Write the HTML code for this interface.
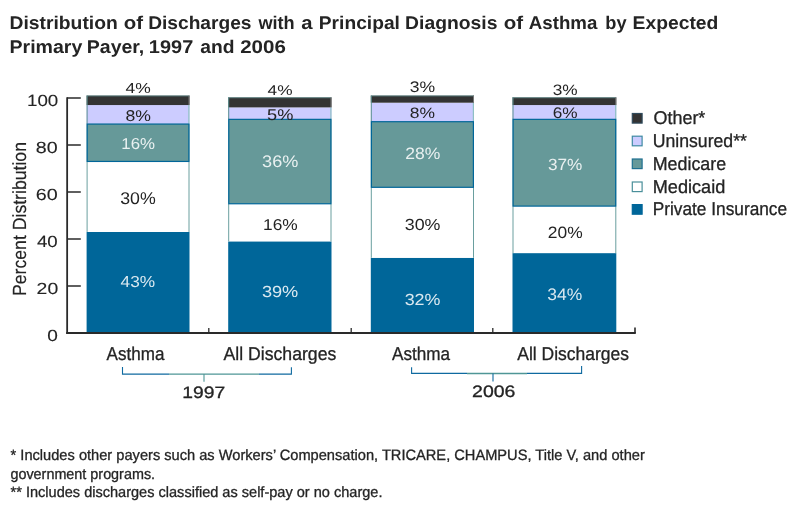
<!DOCTYPE html>
<html lang="en"><head><meta charset="utf-8">
<title>Distribution of Discharges with a Principal Diagnosis of Asthma by Expected Primary Payer, 1997 and 2006</title>
<style>
html,body{margin:0;padding:0;background:#fff;}
body{width:800px;height:514px;overflow:hidden;}
svg{display:block;}
text{font-family:"Liberation Sans", sans-serif;text-rendering:geometricPrecision;}
</style></head><body>
<svg width="800" height="514" viewBox="0 0 800 514">
<rect x="0" y="0" width="800" height="514" fill="#ffffff"/>
<text y="28.75" font-size="18.40" font-weight="bold" fill="#242424"><tspan x="9.54" textLength="108.20" lengthAdjust="spacingAndGlyphs">Distribution</tspan> <tspan x="123.68" textLength="19.28" lengthAdjust="spacingAndGlyphs">of</tspan> <tspan x="148.16" textLength="103.30" lengthAdjust="spacingAndGlyphs">Discharges</tspan> <tspan x="258.38" textLength="36.29" lengthAdjust="spacingAndGlyphs">with</tspan> <tspan x="301.20" textLength="11.28" lengthAdjust="spacingAndGlyphs">a</tspan> <tspan x="318.79" textLength="81.13" lengthAdjust="spacingAndGlyphs">Principal</tspan> <tspan x="405.14" textLength="92.28" lengthAdjust="spacingAndGlyphs">Diagnosis</tspan> <tspan x="503.68" textLength="19.36" lengthAdjust="spacingAndGlyphs">of</tspan> <tspan x="528.85" textLength="68.50" lengthAdjust="spacingAndGlyphs">Asthma</tspan> <tspan x="605.37" textLength="21.29" lengthAdjust="spacingAndGlyphs">by</tspan> <tspan x="632.55" textLength="85.81" lengthAdjust="spacingAndGlyphs">Expected</tspan></text>
<text y="53.25" font-size="18.40" font-weight="bold" fill="#242424"><tspan x="9.52" textLength="72.81" lengthAdjust="spacingAndGlyphs">Primary</tspan> <tspan x="86.75" textLength="57.55" lengthAdjust="spacingAndGlyphs">Payer,</tspan> <tspan x="148.85" textLength="44.40" lengthAdjust="spacingAndGlyphs">1997</tspan> <tspan x="200.20" textLength="34.22" lengthAdjust="spacingAndGlyphs">and</tspan> <tspan x="240.20" textLength="45.62" lengthAdjust="spacingAndGlyphs">2006</tspan></text>
<rect x="86.60" y="231.95" width="102.90" height="101.05" fill="#006699"/>
<rect x="86.60" y="161.45" width="102.90" height="70.50" fill="#ffffff"/>
<rect x="86.60" y="123.85" width="102.90" height="37.60" fill="#669999"/>
<rect x="86.60" y="105.05" width="102.90" height="18.80" fill="#ccccff"/>
<rect x="86.60" y="95.60" width="102.90" height="9.45" fill="#333333"/>
<path d="M87.10 161.45V231.95M189.00 161.45V231.95" stroke="#6a9f9f" stroke-width="1" fill="none"/>
<path d="M87.10 123.85V95.60" stroke="#5c9090" stroke-width="1" fill="none"/>
<path d="M86.60 95.95H189.50" stroke="#5c9090" stroke-width="0.7" fill="none"/>
<path d="M188.90 123.85V105.05" stroke="#8fc0c4" stroke-width="1.2" fill="none"/>
<path d="M189.00 105.05V95.60" stroke="#777" stroke-width="1" fill="none"/>
<rect x="87.20" y="124.05" width="101.70" height="37.40" fill="none" stroke="#006699" stroke-width="1.2"/>
<rect x="228.20" y="241.35" width="103.30" height="91.65" fill="#006699"/>
<rect x="228.20" y="203.75" width="103.30" height="37.60" fill="#ffffff"/>
<rect x="228.20" y="119.15" width="103.30" height="84.60" fill="#669999"/>
<rect x="228.20" y="107.40" width="103.30" height="11.75" fill="#ccccff"/>
<rect x="228.20" y="97.41" width="103.30" height="9.99" fill="#333333"/>
<path d="M228.70 203.75V241.35M331.00 203.75V241.35" stroke="#6a9f9f" stroke-width="1" fill="none"/>
<path d="M228.70 119.15V97.41" stroke="#5c9090" stroke-width="1" fill="none"/>
<path d="M228.20 97.76H331.50" stroke="#5c9090" stroke-width="0.7" fill="none"/>
<path d="M330.90 119.15V107.40" stroke="#8fc0c4" stroke-width="1.2" fill="none"/>
<path d="M331.00 107.40V97.41" stroke="#777" stroke-width="1" fill="none"/>
<rect x="228.80" y="119.35" width="102.10" height="84.40" fill="none" stroke="#006699" stroke-width="1.2"/>
<rect x="370.80" y="257.80" width="103.20" height="75.20" fill="#006699"/>
<rect x="370.80" y="187.30" width="103.20" height="70.50" fill="#ffffff"/>
<rect x="370.80" y="121.50" width="103.20" height="65.80" fill="#669999"/>
<rect x="370.80" y="102.70" width="103.20" height="18.80" fill="#ccccff"/>
<rect x="370.80" y="95.60" width="103.20" height="7.10" fill="#333333"/>
<path d="M371.30 187.30V257.80M473.50 187.30V257.80" stroke="#6a9f9f" stroke-width="1" fill="none"/>
<path d="M371.30 121.50V95.60" stroke="#5c9090" stroke-width="1" fill="none"/>
<path d="M370.80 95.95H474.00" stroke="#5c9090" stroke-width="0.7" fill="none"/>
<path d="M473.40 121.50V102.70" stroke="#8fc0c4" stroke-width="1.2" fill="none"/>
<path d="M473.50 102.70V95.60" stroke="#777" stroke-width="1" fill="none"/>
<rect x="371.40" y="121.70" width="102.00" height="65.60" fill="none" stroke="#006699" stroke-width="1.2"/>
<rect x="512.50" y="253.10" width="103.80" height="79.90" fill="#006699"/>
<rect x="512.50" y="206.10" width="103.80" height="47.00" fill="#ffffff"/>
<rect x="512.50" y="119.15" width="103.80" height="86.95" fill="#669999"/>
<rect x="512.50" y="105.05" width="103.80" height="14.10" fill="#ccccff"/>
<rect x="512.50" y="97.41" width="103.80" height="7.64" fill="#333333"/>
<path d="M513.00 206.10V253.10M615.80 206.10V253.10" stroke="#6a9f9f" stroke-width="1" fill="none"/>
<path d="M513.00 119.15V97.41" stroke="#5c9090" stroke-width="1" fill="none"/>
<path d="M512.50 97.76H616.30" stroke="#5c9090" stroke-width="0.7" fill="none"/>
<path d="M615.70 119.15V105.05" stroke="#8fc0c4" stroke-width="1.2" fill="none"/>
<path d="M615.80 105.05V97.41" stroke="#777" stroke-width="1" fill="none"/>
<rect x="513.10" y="119.35" width="102.60" height="86.75" fill="none" stroke="#006699" stroke-width="1.2"/>
<g stroke="#2a2a2a" fill="none">
<path d="M67.15 97.3V334" stroke-width="1.8"/>
<path d="M66.25 333.1H635.8" stroke-width="2.0"/>
<path d="M67 286.00H80.8" stroke-width="1.5"/>
<path d="M67 239.00H80.8" stroke-width="1.5"/>
<path d="M67 192.00H80.8" stroke-width="1.5"/>
<path d="M67 145.00H80.8" stroke-width="1.5"/>
<path d="M67 98.00H80.8" stroke-width="1.5"/>
<path d="M208.80 328V333" stroke-width="1.3"/>
<path d="M351.20 328V333" stroke-width="1.3"/>
<path d="M492.80 328V333" stroke-width="1.3"/>
<path d="M635 327.5V333" stroke-width="1.6"/>
</g>
<text x="27.00" y="106.00" font-size="16.20" font-weight="normal" fill="#242424" textLength="31.28" lengthAdjust="spacingAndGlyphs" stroke="#242424" stroke-width="0.10">100</text>
<text x="35.83" y="153.00" font-size="16.20" font-weight="normal" fill="#242424" textLength="21.86" lengthAdjust="spacingAndGlyphs" stroke="#242424" stroke-width="0.10">80</text>
<text x="35.70" y="200.00" font-size="16.20" font-weight="normal" fill="#242424" textLength="21.97" lengthAdjust="spacingAndGlyphs" stroke="#242424" stroke-width="0.10">60</text>
<text x="36.98" y="247.00" font-size="16.20" font-weight="normal" fill="#242424" textLength="20.75" lengthAdjust="spacingAndGlyphs" stroke="#242424" stroke-width="0.10">40</text>
<text x="36.60" y="294.00" font-size="16.20" font-weight="normal" fill="#242424" textLength="21.58" lengthAdjust="spacingAndGlyphs" stroke="#242424" stroke-width="0.10">20</text>
<text x="47.16" y="341.00" font-size="16.20" font-weight="normal" fill="#242424" textLength="10.61" lengthAdjust="spacingAndGlyphs" stroke="#242424" stroke-width="0.10">0</text>
<g transform="translate(25.9 296) rotate(-90)">
<text x="0" y="0" font-size="19" fill="#242424" stroke="#242424" stroke-width="0.15" textLength="154" lengthAdjust="spacingAndGlyphs">Percent Distribution</text>
</g>
<text x="125.44" y="92.70" font-size="14.40" font-weight="normal" fill="#242424" textLength="25.22" lengthAdjust="spacingAndGlyphs">4%</text>
<text x="125.50" y="120.50" font-size="15.60" font-weight="normal" fill="#242424" textLength="25.48" lengthAdjust="spacingAndGlyphs">8%</text>
<text x="121.35" y="149.00" font-size="15.80" font-weight="normal" fill="#ffffff" textLength="33.69" lengthAdjust="spacingAndGlyphs" fill-opacity="0.86">16%</text>
<text x="120.20" y="203.50" font-size="17.00" font-weight="normal" fill="#242424" textLength="35.54" lengthAdjust="spacingAndGlyphs">30%</text>
<text x="120.61" y="287.10" font-size="15.90" font-weight="normal" fill="#ffffff" textLength="34.53" lengthAdjust="spacingAndGlyphs" fill-opacity="0.86">43%</text>
<text x="267.63" y="94.90" font-size="14.10" font-weight="normal" fill="#242424" textLength="24.95" lengthAdjust="spacingAndGlyphs">4%</text>
<text x="267.11" y="120.40" font-size="15.60" font-weight="normal" fill="#242424" textLength="26.29" lengthAdjust="spacingAndGlyphs">5%</text>
<text x="262.14" y="167.10" font-size="16.70" font-weight="normal" fill="#ffffff" textLength="36.24" lengthAdjust="spacingAndGlyphs" fill-opacity="0.86">36%</text>
<text x="263.09" y="230.00" font-size="15.70" font-weight="normal" fill="#242424" textLength="34.68" lengthAdjust="spacingAndGlyphs">16%</text>
<text x="261.90" y="297.00" font-size="16.10" font-weight="normal" fill="#ffffff" textLength="36.40" lengthAdjust="spacingAndGlyphs" fill-opacity="0.86">39%</text>
<text x="409.71" y="92.00" font-size="15.30" font-weight="normal" fill="#242424" textLength="25.40" lengthAdjust="spacingAndGlyphs">3%</text>
<text x="409.88" y="118.30" font-size="15.00" font-weight="normal" fill="#242424" textLength="25.19" lengthAdjust="spacingAndGlyphs">8%</text>
<text x="405.35" y="158.95" font-size="16.50" font-weight="normal" fill="#ffffff" textLength="35.09" lengthAdjust="spacingAndGlyphs" fill-opacity="0.86">28%</text>
<text x="404.74" y="230.25" font-size="16.00" font-weight="normal" fill="#242424" textLength="35.73" lengthAdjust="spacingAndGlyphs">30%</text>
<text x="404.67" y="304.75" font-size="16.10" font-weight="normal" fill="#ffffff" textLength="35.82" lengthAdjust="spacingAndGlyphs" fill-opacity="0.86">32%</text>
<text x="552.74" y="94.80" font-size="15.00" font-weight="normal" fill="#242424" textLength="24.92" lengthAdjust="spacingAndGlyphs">3%</text>
<text x="552.77" y="118.30" font-size="15.30" font-weight="normal" fill="#242424" textLength="24.88" lengthAdjust="spacingAndGlyphs">6%</text>
<text x="547.94" y="169.75" font-size="16.20" font-weight="normal" fill="#ffffff" textLength="34.40" lengthAdjust="spacingAndGlyphs" fill-opacity="0.86">37%</text>
<text x="547.86" y="237.75" font-size="16.40" font-weight="normal" fill="#242424" textLength="34.86" lengthAdjust="spacingAndGlyphs">20%</text>
<text x="547.37" y="300.00" font-size="16.70" font-weight="normal" fill="#ffffff" textLength="34.89" lengthAdjust="spacingAndGlyphs" fill-opacity="0.86">34%</text>
<text x="106.61" y="360.00" font-size="18.50" font-weight="normal" fill="#242424" textLength="57.74" lengthAdjust="spacingAndGlyphs" stroke="#242424" stroke-width="0.30">Asthma</text>
<text x="223.50" y="360.00" font-size="18.50" font-weight="normal" fill="#242424" textLength="112.84" lengthAdjust="spacingAndGlyphs" stroke="#242424" stroke-width="0.30">All Discharges</text>
<text x="391.96" y="360.00" font-size="18.50" font-weight="normal" fill="#242424" textLength="58.15" lengthAdjust="spacingAndGlyphs" stroke="#242424" stroke-width="0.30">Asthma</text>
<text x="517.22" y="360.00" font-size="18.50" font-weight="normal" fill="#242424" textLength="111.87" lengthAdjust="spacingAndGlyphs" stroke="#242424" stroke-width="0.30">All Discharges</text>
<g fill="none" stroke-width="1.1">
<path d="M122.5 367V374.1H169" stroke="#0f6aa0"/>
<path d="M169 374.1H259M204 374.1V381.7" stroke="#4f9696"/>
<path d="M259 374.1H291.4V367.3" stroke="#0f6aa0"/>
<path d="M411.6 367.2V373.4H467" stroke="#0f6aa0"/>
<path d="M467 373.4H527" stroke="#4f9696" stroke-width="1.5"/>
<path d="M527 373.4H581.6V366M493 373.4V381.6" stroke="#0f6aa0"/>
</g>
<text x="182.36" y="397.70" font-size="16.50" font-weight="normal" fill="#242424" textLength="42.88" lengthAdjust="spacingAndGlyphs" stroke="#242424" stroke-width="0.30">1997</text>
<text x="472.07" y="397.30" font-size="16.50" font-weight="normal" fill="#242424" textLength="43.33" lengthAdjust="spacingAndGlyphs" stroke="#242424" stroke-width="0.30">2006</text>
<rect x="632.3" y="113.50" width="9.8" height="9.6" fill="#333333" stroke="#2f4a5c" stroke-width="1.2"/>
<rect x="632.3" y="136.20" width="9.8" height="9.6" fill="#ccccff" stroke="#3f8aa3" stroke-width="1.2"/>
<rect x="632.3" y="159.00" width="9.8" height="9.6" fill="#669999" stroke="#1f7090" stroke-width="1.2"/>
<rect x="632.3" y="182.00" width="9.8" height="9.6" fill="#ffffff" stroke="#4a8f9a" stroke-width="1.2"/>
<rect x="632.3" y="204.60" width="9.8" height="9.6" fill="#006699" stroke="#006699" stroke-width="1.2"/>
<text x="653.51" y="124.00" font-size="18.50" font-weight="normal" fill="#242424" textLength="51.83" lengthAdjust="spacingAndGlyphs" stroke="#242424" stroke-width="0.30">Other*</text>
<text x="652.75" y="147.00" font-size="18.50" font-weight="normal" fill="#242424" textLength="94.16" lengthAdjust="spacingAndGlyphs" stroke="#242424" stroke-width="0.30">Uninsured**</text>
<text x="652.75" y="170.00" font-size="18.50" font-weight="normal" fill="#242424" textLength="73.42" lengthAdjust="spacingAndGlyphs" stroke="#242424" stroke-width="0.30">Medicare</text>
<text x="652.73" y="193.00" font-size="18.50" font-weight="normal" fill="#242424" textLength="72.59" lengthAdjust="spacingAndGlyphs" stroke="#242424" stroke-width="0.30">Medicaid</text>
<text x="652.72" y="215.00" font-size="18.50" font-weight="normal" fill="#242424" textLength="134.36" lengthAdjust="spacingAndGlyphs" stroke="#242424" stroke-width="0.30">Private Insurance</text>
<text x="10.57" y="460.30" font-size="15.00" font-weight="normal" fill="#242424" textLength="634.24" lengthAdjust="spacingAndGlyphs" stroke="#242424" stroke-width="0.30">* Includes other payers such as Workers’ Compensation, TRICARE, CHAMPUS, Title V, and other</text>
<text x="10.42" y="479.00" font-size="15.00" font-weight="normal" fill="#242424" textLength="144.67" lengthAdjust="spacingAndGlyphs" stroke="#242424" stroke-width="0.30">government programs.</text>
<text x="10.57" y="496.90" font-size="15.00" font-weight="normal" fill="#242424" textLength="371.90" lengthAdjust="spacingAndGlyphs" stroke="#242424" stroke-width="0.30">** Includes discharges classified as self-pay or no charge.</text>
</svg>
</body></html>
